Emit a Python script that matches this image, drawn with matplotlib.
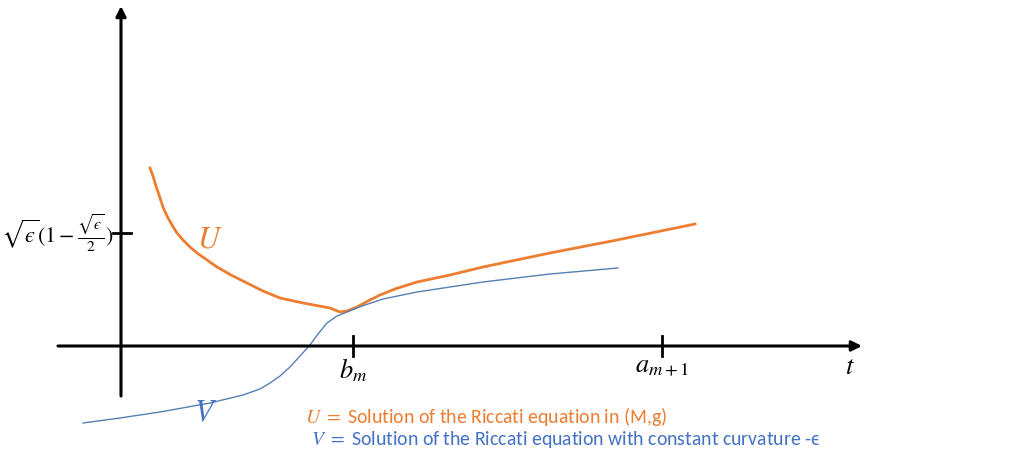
import matplotlib
matplotlib.use("Agg")
import matplotlib.pyplot as plt

# sketch of U and V (origin where the axes cross)
u_t = [29, 32, 35, 39, 42, 46, 51, 56, 62, 69, 76, 86, 96, 110, 126, 142, 159, 182, 209, 219,
       226, 236, 247, 259, 274, 296, 329, 362, 429, 496, 574]
u_val = [178, 170, 160, 148, 139, 130, 121, 113, 106, 99, 93, 86, 79, 71, 63, 55, 48, 43, 38, 34,
         35, 39, 45, 51, 57, 64, 71, 79, 93, 106, 122]
v_t = [-38, -1, 39, 89, 122, 139, 149, 159, 169, 179, 189, 197, 206, 216, 226,
       241, 262, 296, 362, 429, 497]
v_val = [-77, -72, -66, -57, -49, -43, -37, -30, -21, -10, 1, 12, 23, 30, 34,
         40, 47, 54, 64, 72, 78]

tick_t = [232, 541]
tick_names = [r"$b_m$", r"$a_{m+1}$"]
y_tick = 113
y_tick_name = r"$\sqrt{ϵ}(1-\frac{\sqrt{ϵ}}{2})$"

orange = "#ED7D31"
blue_txt = "#4472C4"
blue_line = "#5580B5"

plt.rcParams["mathtext.fontset"] = "stix"
plt.rcParams["font.family"] = ["Carlito", "Roboto Condensed", "DejaVu Sans"]

fig = plt.figure(figsize=(10.33, 4.70), dpi=100)
ax = fig.add_axes([0, 0, 1, 1])
ax.set_xlim(-121, 912)
ax.set_ylim(-124, 346)
ax.axis("off")

# axes with arrows
arrow = dict(arrowstyle="-|>", lw=2.2, color="black", mutation_scale=15, shrinkA=0, shrinkB=0)
ax.annotate("", xy=(741, 0), xytext=(-63, 0), arrowprops=arrow)
ax.annotate("", xy=(0, 340), xytext=(0, -50), arrowprops=arrow)

# ticks
for t in tick_t:
    ax.plot([t, t], [-10, 10], color="black", lw=2)
ax.plot([-8, 10], [y_tick, y_tick], color="black", lw=2)

for t, name in zip(tick_t, tick_names):
    ax.text(t, -10, name, ha="center", va="top", fontsize=19)
ax.text(729, -20, r"$t$", ha="center", va="center", fontsize=19)
ax.text(-7, y_tick, y_tick_name, ha="right", va="center", fontsize=16)

# curves
ax.plot(u_t, u_val, color=orange, lw=2)
ax.plot(v_t, v_val, color=blue_line, lw=1)

ax.text(89, 106, r"$U$", color=orange, fontsize=22, ha="center", va="center")
ax.text(84, -67, r"$V$", color=blue_txt, fontsize=22, ha="center", va="center")

ax.text(184, -71, r"$U$ $=$ Solution of the Riccati equation in (M,g)",
        color=orange, fontsize=14.2, ha="left", va="center")
ax.text(190, -94, r"$V$ $=$ Solution of the Riccati equation with constant curvature -ϵ",
        color=blue_txt, fontsize=14.2, ha="left", va="center")

fig.savefig("out.png", dpi=100)
